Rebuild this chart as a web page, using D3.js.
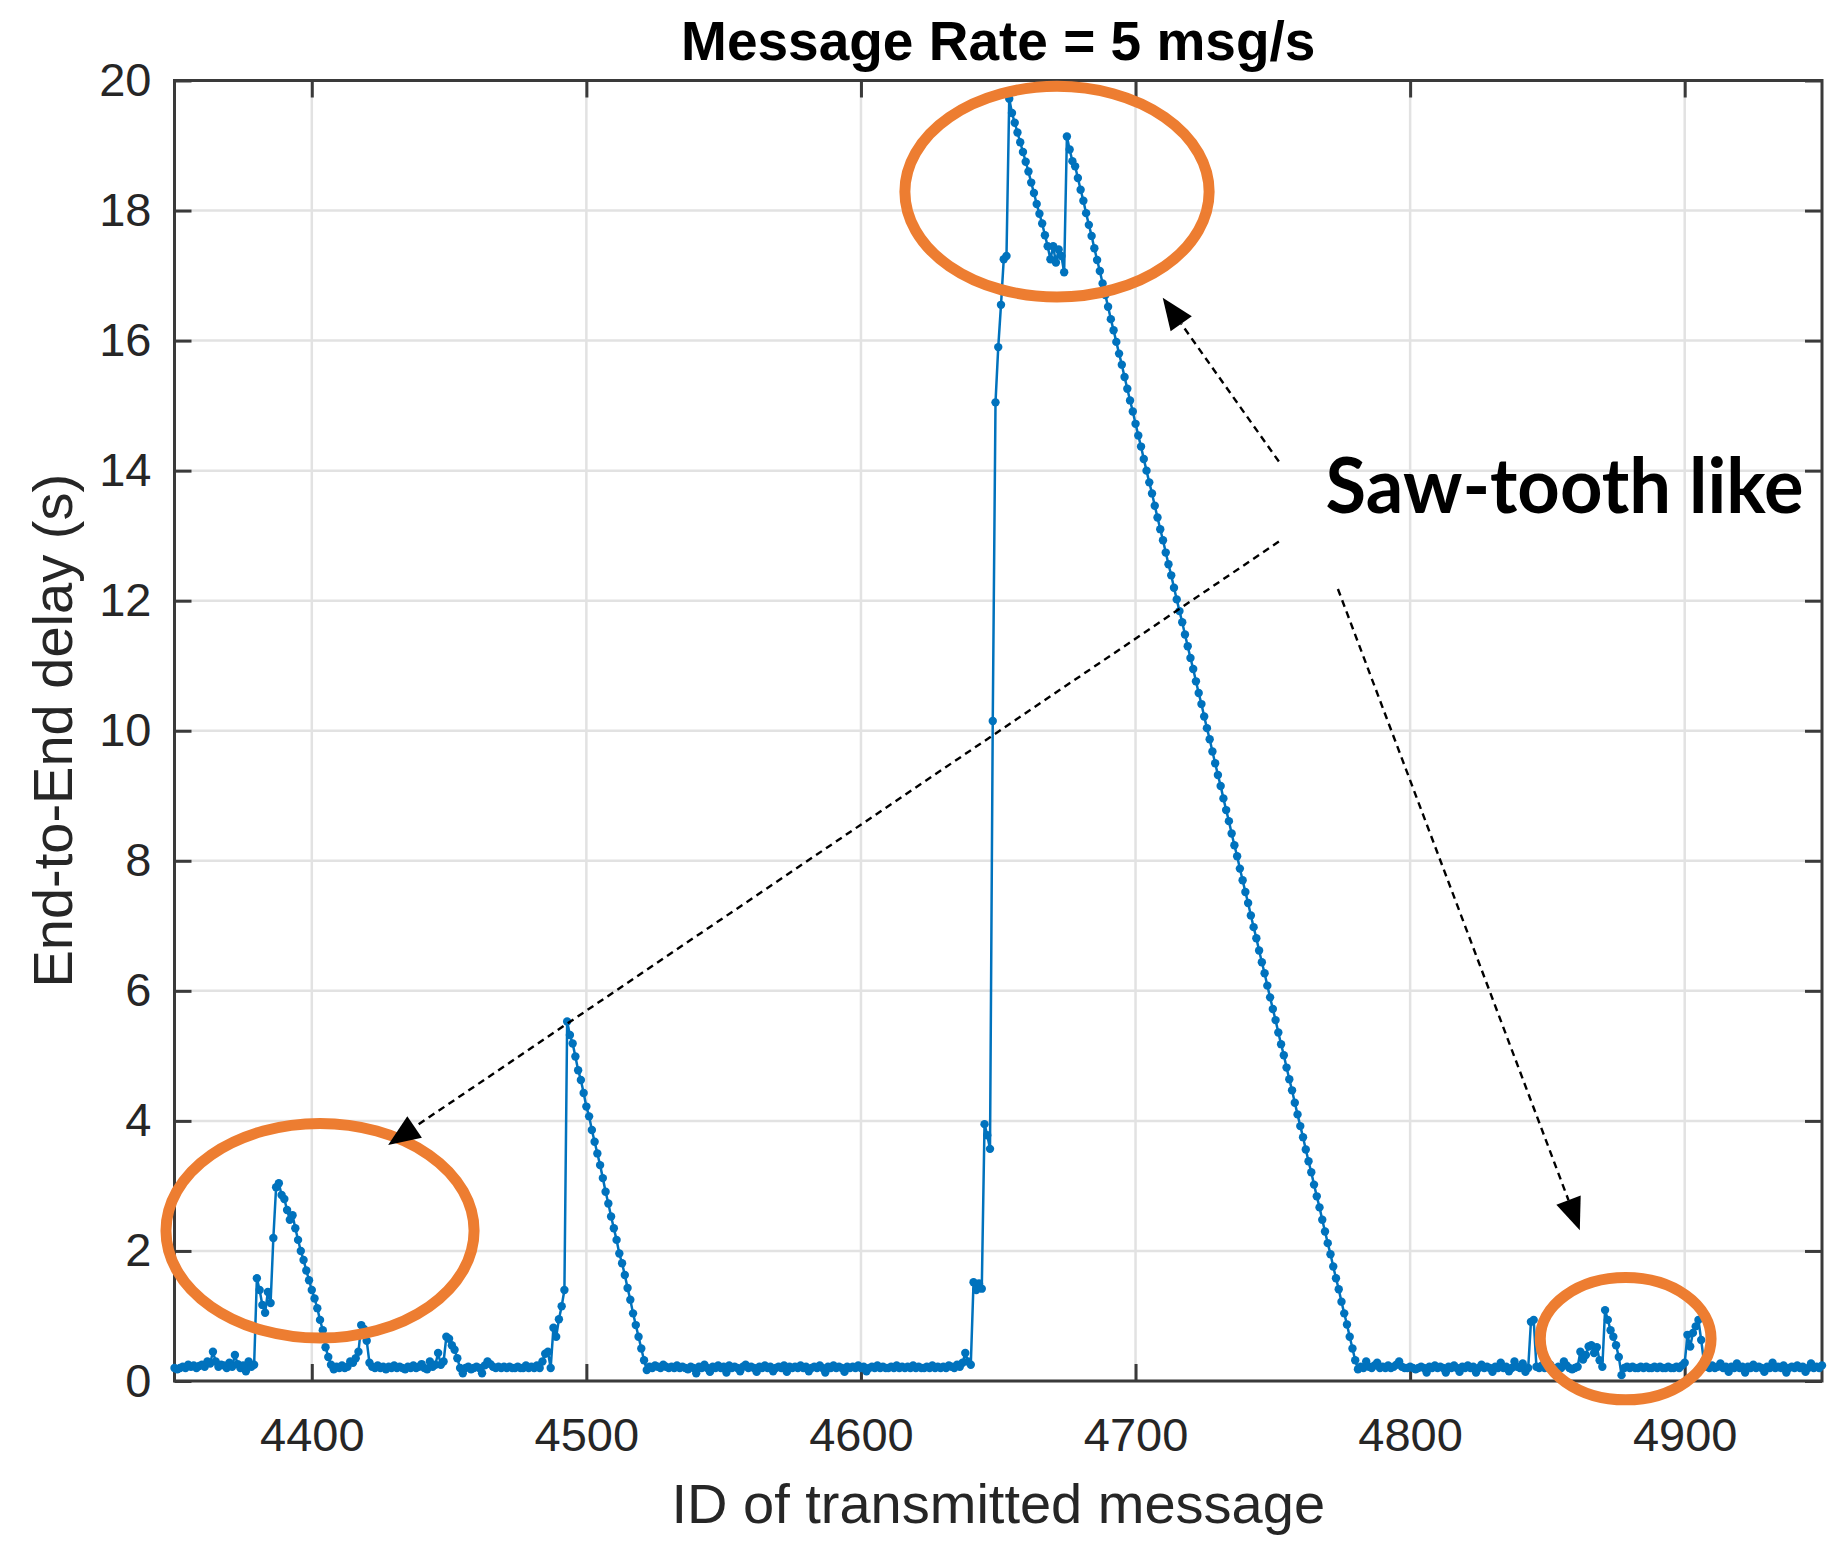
<!DOCTYPE html>
<html>
<head>
<meta charset="utf-8">
<script src="https://cdn.jsdelivr.net/npm/d3@7"></script>
<style>
  html, body { margin: 0; padding: 0; background: #fff; }
  svg { display: block; }
</style>
</head>
<body>
<svg id="chart" width="1848" height="1553"></svg>
<script>
// ---- data (one point per message ID) ----
const firstId = 4350;
const delayRows = [
  [0.20,0.18,0.20,0.22,0.20,0.25,0.22,0.24,0.20,0.23], // 4350
  [0.25,0.22,0.30,0.27,0.45,0.30,0.22,0.25,0.24,0.20],
  [0.28,0.22,0.40,0.26,0.20,0.24,0.15,0.30,0.22,0.25],
  [1.58,1.40,1.17,1.05,1.37,1.20,2.20,2.98,3.04,2.86],
  [2.80,2.63,2.48,2.55,2.35,2.17,2.00,1.86,1.70,1.55],
  [1.40,1.27,1.12,0.94,0.78,0.52,0.37,0.25,0.18,0.22], // 4400
  [0.20,0.24,0.20,0.22,0.30,0.28,0.35,0.45,0.86,0.80],
  [0.62,0.28,0.22,0.20,0.24,0.20,0.22,0.18,0.22,0.20],
  [0.24,0.20,0.22,0.20,0.18,0.22,0.20,0.24,0.20,0.22],
  [0.26,0.20,0.18,0.30,0.22,0.25,0.43,0.25,0.30,0.68],
  [0.65,0.55,0.48,0.35,0.20,0.12,0.20,0.22,0.18,0.20], // 4450
  [0.22,0.20,0.12,0.24,0.30,0.26,0.22,0.20,0.22,0.20],
  [0.22,0.20,0.22,0.20,0.20,0.22,0.20,0.20,0.24,0.20],
  [0.22,0.20,0.24,0.20,0.30,0.42,0.45,0.20,0.82,0.68],
  [0.95,1.15,1.40,5.53,5.32,5.19,4.99,4.78,4.63,4.43],
  [4.22,4.07,3.86,3.68,3.50,3.32,3.12,2.91,2.73,2.53], // 4500
  [2.35,2.17,1.96,1.81,1.63,1.43,1.25,1.04,0.86,0.68],
  [0.50,0.32,0.17,0.22,0.20,0.24,0.22,0.20,0.25,0.22],
  [0.20,0.22,0.20,0.24,0.20,0.22,0.20,0.18,0.22,0.20],
  [0.12,0.22,0.20,0.25,0.20,0.14,0.22,0.20,0.24,0.20],
  [0.22,0.13,0.24,0.20,0.22,0.20,0.15,0.22,0.25,0.20], // 4550
  [0.22,0.20,0.14,0.22,0.20,0.24,0.20,0.22,0.15,0.20],
  [0.22,0.20,0.24,0.14,0.22,0.20,0.22,0.20,0.24,0.20],
  [0.22,0.15,0.20,0.22,0.20,0.24,0.20,0.13,0.22,0.20],
  [0.24,0.20,0.22,0.20,0.14,0.22,0.20,0.22,0.20,0.24],
  [0.20,0.22,0.15,0.20,0.22,0.20,0.24,0.20,0.22,0.20], // 4600
  [0.20,0.22,0.20,0.24,0.20,0.22,0.20,0.22,0.20,0.24],
  [0.20,0.22,0.20,0.20,0.22,0.20,0.24,0.20,0.22,0.20],
  [0.22,0.20,0.24,0.22,0.20,0.25,0.22,0.28,0.43,0.30],
  [0.25,1.52,1.40,1.50,1.42,3.95,3.78,3.57,10.15,15.05],
  [15.90,16.55,17.25,17.30,19.72,19.50,19.35,19.20,19.05,18.90], // 4650
  [18.75,18.60,18.43,18.27,18.10,17.95,17.80,17.62,17.45,17.25],
  [17.45,17.20,17.40,17.30,17.05,19.14,18.94,18.76,18.68,18.50],
  [18.32,18.15,17.96,17.78,17.61,17.42,17.24,17.07,16.88,16.70],
  [16.52,16.33,16.16,15.98,15.80,15.63,15.44,15.26,15.08,14.91],
  [14.72,14.54,14.37,14.18,14.00,13.82,13.65,13.46,13.28,13.10], // 4700
  [12.93,12.74,12.56,12.39,12.20,12.02,11.84,11.67,11.48,11.30],
  [11.12,10.95,10.76,10.58,10.41,10.22,10.04,9.87,9.68,9.50],
  [9.32,9.15,8.96,8.78,8.61,8.42,8.24,8.07,7.88,7.70],
  [7.52,7.35,7.16,6.98,6.81,6.62,6.44,6.27,6.08,5.90],
  [5.72,5.55,5.36,5.18,5.01,4.82,4.64,4.47,4.28,4.10], // 4750
  [3.92,3.75,3.56,3.38,3.21,3.02,2.84,2.67,2.48,2.30],
  [2.12,1.95,1.76,1.58,1.41,1.22,1.04,0.87,0.68,0.50],
  [0.32,0.18,0.22,0.20,0.30,0.22,0.20,0.24,0.28,0.20],
  [0.22,0.20,0.24,0.20,0.22,0.25,0.30,0.22,0.20,0.20],
  [0.22,0.20,0.18,0.20,0.22,0.20,0.13,0.22,0.20,0.24], // 4800
  [0.20,0.22,0.20,0.13,0.22,0.20,0.24,0.20,0.14,0.22],
  [0.20,0.24,0.20,0.22,0.13,0.20,0.25,0.20,0.22,0.20],
  [0.14,0.22,0.20,0.28,0.20,0.22,0.15,0.20,0.30,0.22],
  [0.20,0.27,0.14,0.20,0.91,0.94,0.22,0.20,0.24,0.20],
  [0.22,0.25,0.20,0.15,0.22,0.20,0.30,0.24,0.20,0.18], // 4850
  [0.20,0.22,0.45,0.33,0.40,0.53,0.55,0.43,0.52,0.32],
  [0.22,1.09,0.94,0.78,0.68,0.55,0.37,0.09,0.20,0.22],
  [0.20,0.22,0.20,0.20,0.22,0.20,0.22,0.20,0.20,0.22],
  [0.20,0.22,0.20,0.20,0.22,0.20,0.20,0.22,0.20,0.24],
  [0.28,0.71,0.53,0.74,0.84,0.94,0.63,0.30,0.22,0.20], // 4900
  [0.24,0.20,0.22,0.27,0.20,0.22,0.14,0.22,0.20,0.27],
  [0.20,0.22,0.13,0.22,0.20,0.25,0.20,0.22,0.20,0.14],
  [0.22,0.20,0.28,0.20,0.22,0.20,0.24,0.13,0.20,0.22],
  [0.20,0.24,0.20,0.22,0.14,0.20,0.27,0.20,0.22,0.20],
  [0.24]                                                // 4950
];

const xDomain = [4350, 4950];
const yDomain = [0, 20];
const xTicks = [4400, 4500, 4600, 4700, 4800, 4900];
const yTicks = [0, 2, 4, 6, 8, 10, 12, 14, 16, 18, 20];

const titleText = "Message Rate = 5 msg/s";
const xLabel = "ID of transmitted message";
const yLabel = "End-to-End delay (s)";

// annotations, in data units (message ID, seconds)
const ellipseCenters = [[4671.4, 18.29], [4403.0, 2.31], [4878.5, 0.65]];
const ellipseRadii = [[55.4, 1.62], [56.1, 1.65], [31.1, 0.94]];
const arrowFrom = [[4752.2, 14.14], [4752.2, 12.91], [4773.7, 12.18]];
const arrowTo = [[4709.9, 16.66], [4427.8, 3.63], [4861.8, 2.32]];
const noteText = "Saw-tooth like";
const notePos = [4769.2, 13.35];

// ---- layout ----
const svg = d3.select("#chart");
const width = +svg.attr("width");
const height = +svg.attr("height");
const margin = { top: 80.5, right: 26, bottom: 172, left: 174.5 };

const x = d3.scaleLinear().domain(xDomain).range([margin.left, width - margin.right]);
const y = d3.scaleLinear().domain(yDomain).range([height - margin.bottom, margin.top]);

const plotW = width - margin.left - margin.right;
const plotH = height - margin.top - margin.bottom;

const delays = delayRows.flat();
const points = delays.map((d, i) => ({ id: firstId + i, v: d }));

const blue = "#0072BD";
const orange = "#ED7D31";
const axisColor = "#3a3a3a";
const font = "'Liberation Sans', Arial, Helvetica, sans-serif";

svg.append("rect").attr("width", width).attr("height", height).attr("fill", "#fff");

// grid
const grid = svg.append("g").attr("class", "grid");
grid.selectAll(".gx").data(xTicks).enter().append("line")
    .attr("x1", d => x(d)).attr("x2", d => x(d))
    .attr("y1", margin.top).attr("y2", height - margin.bottom)
    .attr("stroke", "#e2e2e2").attr("stroke-width", 2.5);
grid.selectAll(".gy").data(yTicks).enter().append("line")
    .attr("x1", margin.left).attr("x2", width - margin.right)
    .attr("y1", d => y(d)).attr("y2", d => y(d))
    .attr("stroke", "#e2e2e2").attr("stroke-width", 2.5);

// axes (ticks point inward, box on)
const tickLen = 17;
const styleAxis = g => {
    g.select(".domain").remove();
    g.attr("color", axisColor);
    g.selectAll(".tick line").attr("stroke-width", 3);
    g.selectAll("text").attr("font-family", font).attr("font-size", 47).attr("fill", "#262626");
};

svg.append("g")
    .attr("transform", `translate(0,${height - margin.bottom})`)
    .call(d3.axisBottom(x).tickValues(xTicks).tickFormat(d3.format("d")).tickSize(-tickLen).tickPadding(37))
    .call(styleAxis);
svg.append("g")
    .attr("transform", `translate(0,${margin.top})`)
    .call(d3.axisTop(x).tickValues(xTicks).tickSize(-tickLen).tickFormat(""))
    .call(styleAxis);
svg.append("g")
    .attr("transform", `translate(${margin.left},0)`)
    .call(d3.axisLeft(y).tickValues(yTicks).tickSize(-tickLen).tickPadding(23))
    .call(styleAxis);
svg.append("g")
    .attr("transform", `translate(${width - margin.right},0)`)
    .call(d3.axisRight(y).tickValues(yTicks).tickSize(-tickLen).tickFormat(""))
    .call(styleAxis);

svg.append("rect")
    .attr("x", margin.left).attr("y", margin.top)
    .attr("width", plotW).attr("height", plotH)
    .attr("fill", "none").attr("stroke", axisColor).attr("stroke-width", 3);

// data line with dot markers
const line = d3.line().x(d => x(d.id)).y(d => y(d.v));
svg.append("path")
    .datum(points)
    .attr("d", line)
    .attr("fill", "none")
    .attr("stroke", blue)
    .attr("stroke-width", 2.5)
    .attr("stroke-linejoin", "round");
svg.append("g").selectAll("circle")
    .data(points).enter().append("circle")
    .attr("cx", d => x(d.id))
    .attr("cy", d => y(d.v))
    .attr("r", 4.2)
    .attr("fill", blue);

// titles
svg.append("text")
    .attr("x", margin.left + plotW / 2).attr("y", 60)
    .attr("text-anchor", "middle")
    .attr("font-family", font).attr("font-weight", "bold").attr("font-size", 55)
    .attr("fill", "#000")
    .text(titleText);
svg.append("text")
    .attr("x", margin.left + plotW / 2).attr("y", 1523)
    .attr("text-anchor", "middle")
    .attr("font-family", font).attr("font-size", 56)
    .attr("fill", "#262626")
    .text(xLabel);
svg.append("text")
    .attr("transform", `translate(72,${margin.top + plotH / 2}) rotate(-90)`)
    .attr("text-anchor", "middle")
    .attr("font-family", font).attr("font-size", 56)
    .attr("fill", "#262626")
    .text(yLabel);

// annotations: ellipses
const notes = svg.append("g").attr("class", "notes");
notes.selectAll("ellipse")
    .data(ellipseCenters).enter().append("ellipse")
    .attr("cx", d => x(d[0]))
    .attr("cy", d => y(d[1]))
    .attr("rx", (d, i) => x(xDomain[0] + ellipseRadii[i][0]) - x(xDomain[0]))
    .attr("ry", (d, i) => y(0) - y(ellipseRadii[i][1]))
    .attr("fill", "none")
    .attr("stroke", orange)
    .attr("stroke-width", 11);

// annotations: dashed arrows
const headLen = 32, headHalf = 13;
arrowFrom.forEach((f, i) => {
    const x0 = x(f[0]), y0 = y(f[1]);
    const x1 = x(arrowTo[i][0]), y1 = y(arrowTo[i][1]);
    const len = Math.hypot(x1 - x0, y1 - y0);
    const ux = (x1 - x0) / len, uy = (y1 - y0) / len;
    const bx = x1 - ux * headLen, by = y1 - uy * headLen;
    notes.append("line")
        .attr("x1", x0).attr("y1", y0).attr("x2", bx).attr("y2", by)
        .attr("stroke", "#000").attr("stroke-width", 2.4)
        .attr("stroke-dasharray", "7 5");
    notes.append("path")
        .attr("d", `M${x1},${y1}L${bx - uy * headHalf},${by + ux * headHalf}L${bx + uy * headHalf},${by - ux * headHalf}Z`)
        .attr("fill", "#000");
});

notes.append("text")
    .attr("x", x(notePos[0])).attr("y", y(notePos[1]))
    .attr("font-family", "Lato, 'Noto Sans', sans-serif")
    .attr("font-weight", "bold").attr("font-size", 76)
    .attr("textLength", 478).attr("lengthAdjust", "spacingAndGlyphs")
    .attr("fill", "#000")
    .text(noteText);
</script>
</body>
</html>
